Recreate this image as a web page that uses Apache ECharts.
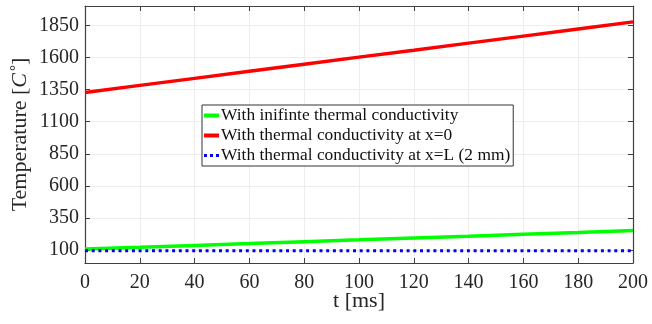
<!DOCTYPE html>
<html>
<head>
<meta charset="utf-8">
<script src="https://cdn.jsdelivr.net/npm/echarts@6/dist/echarts.min.js"></script>
<style>
html,body{margin:0;padding:0;background:#fff;}
#c{width:652px;height:324px;}
</style>
</head>
<body>
<div id="c"></div>
<script>
const timeMs = [0, 20, 40, 60, 80, 100, 120, 140, 160, 180, 200];
const infiniteK = [108, 122, 137, 151, 166, 180, 195, 209, 224, 238, 253];
const atX0 = [1327, 1382, 1437, 1492, 1547, 1602, 1656, 1711, 1766, 1821, 1876];
const atXL = [96, 96, 96, 96, 96, 96, 96, 96, 96, 96, 96];
const yTicks = [100, 350, 600, 850, 1100, 1350, 1600, 1850];
const seriesNames = [
  'With inifinte thermal conductivity',
  'With thermal conductivity at x=0',
  'With thermal conductivity at x=L (2 mm)'
];

const FONT = 'Liberation Serif';
const AX = '#404040';
const TXT = '#262626';
const GRID = '#ededed';

function pairs(ys) { return timeMs.map((t, i) => [t, ys[i]]); }
const plain = v => String(v);

const chart = echarts.init(document.getElementById('c'), null, {renderer: 'canvas'});
chart.setOption({
  animation: false,
  backgroundColor: '#fff',
  textStyle: {fontFamily: FONT},
  grid: {left: 85, right: 19, top: 6, bottom: 61, containLabel: false},
  legend: {
    orient: 'vertical',
    left: 202, top: 105,
    backgroundColor: '#fff',
    borderColor: '#333', borderWidth: 1,
    padding: [2, 3, 2, 2],
    itemWidth: 15, itemHeight: 4, itemGap: 3,
    textStyle: {fontFamily: FONT, fontSize: 17.4, lineHeight: 16, color: '#111', padding: [0, 0, 0, -3]},
    data: [
      {name: seriesNames[0], icon: 'rect'},
      {name: seriesNames[1], icon: 'rect'},
      {name: seriesNames[2], icon: 'path://M0,0h3v3h-3zM6,0h3v3h-3zM12,0h3v3h-3z'}
    ]
  },
  xAxis: [{
    type: 'value', min: 0, max: 200, interval: 20,
    name: 't [ms]', nameLocation: 'middle', nameGap: 27, nameMoveOverlap: false,
    nameTextStyle: {fontFamily: FONT, fontSize: 22, color: TXT},
    axisLine: {show: true, onZero: false, lineStyle: {color: AX, width: 1.2}},
    axisTick: {show: true, inside: true, length: 5, lineStyle: {color: AX}},
    axisLabel: {fontFamily: FONT, fontSize: 20, color: TXT, margin: 10, formatter: plain},
    splitLine: {show: true, lineStyle: {color: GRID, width: 1}}
  }, {
    type: 'value', min: 0, max: 200, interval: 20, position: 'top',
    axisLine: {show: true, onZero: false, lineStyle: {color: AX, width: 1.2}},
    axisTick: {show: true, inside: true, length: 5, lineStyle: {color: AX}},
    axisLabel: {show: false}, splitLine: {show: false}
  }],
  yAxis: [{
    type: 'value', min: 0, max: 2000,
    name: '{a|Temperature [}{i|C}{s|°}{a|]}', nameLocation: 'middle', nameGap: 54, nameMoveOverlap: false,
    nameTextStyle: {
      fontFamily: FONT, fontSize: 22, color: TXT,
      rich: {
        a: {fontFamily: FONT, fontSize: 22, color: TXT},
        i: {fontFamily: FONT, fontSize: 22, fontStyle: 'italic', color: TXT, padding: [0, 2, 0, 0]},
        s: {fontFamily: FONT, fontSize: 15, color: TXT, verticalAlign: 'top', padding: [0, 0, 6, 0]}
      }
    },
    axisLine: {show: true, onZero: false, lineStyle: {color: AX, width: 1.2}},
    axisTick: {show: true, inside: true, length: 5, lineStyle: {color: AX}, customValues: yTicks},
    axisLabel: {fontFamily: FONT, fontSize: 20, color: TXT, margin: 6, customValues: yTicks, formatter: plain},
    splitLine: {show: true, lineStyle: {color: GRID, width: 1}, customValues: yTicks}
  }, {
    type: 'value', min: 0, max: 2000, position: 'right',
    axisLine: {show: true, onZero: false, lineStyle: {color: AX, width: 1.2}},
    axisTick: {show: true, inside: true, length: 5, lineStyle: {color: AX}, customValues: yTicks},
    axisLabel: {show: false, customValues: yTicks}, splitLine: {show: false}
  }],
  series: [{
    name: seriesNames[0], type: 'line', symbol: 'none', data: pairs(infiniteK),
    lineStyle: {color: '#00ff00', width: 3.5}, itemStyle: {color: '#00ff00'}, z: 3
  }, {
    name: seriesNames[1], type: 'line', symbol: 'none', data: pairs(atX0),
    lineStyle: {color: '#ff0000', width: 3.4}, itemStyle: {color: '#ff0000'}, z: 3
  }, {
    name: seriesNames[2], type: 'line', symbol: 'none', data: pairs(atXL),
    lineStyle: {color: '#0000ff', width: 3, type: [3, 3.7], cap: 'butt'}, itemStyle: {color: '#0000ff'}, z: 4
  }]
});
</script>
</body>
</html>
